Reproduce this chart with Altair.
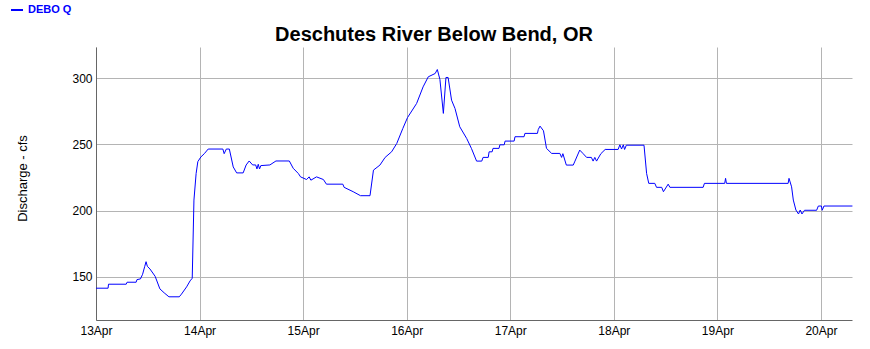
import altair as alt
import pandas as pd

# Hours after 13 Apr 00:00 and discharge (cfs)
hours = [0, 2.8, 2.9, 7.0, 7.2, 9.3, 9.5, 10.3, 10.8, 11.3, 11.6, 11.9, 12.5, 13.7,
         14.8, 15.8, 16.9, 19.3, 19.8, 21.0, 21.8, 22.3, 22.7, 23.2, 23.6, 24.3,
         25.1, 26.0, 29.4, 29.7, 30.2, 30.9, 31.8, 32.6, 34.1, 34.8, 35.5, 36.3,
         37.0, 37.3, 37.6, 37.9, 38.2, 40.3, 41.7, 44.8, 45.7, 46.9, 47.4, 48.8,
         49.4, 49.8, 51.1, 52.7, 53.4, 57.2, 57.5, 59.6, 61.3, 63.5, 64.3, 65.8,
         67.0, 68.5, 69.7, 71.1, 72.2, 74.3, 75.8, 77.0, 78.6, 79.1, 79.7, 80.5,
         81.1, 81.6, 82.4, 83.2, 84.3, 85.9, 87.0, 88.2, 89.4, 89.7, 90.9, 91.1,
         91.8, 92.0, 93.4, 93.6, 94.6, 94.8, 96.9, 97.1, 99.2, 99.4, 102.3, 102.5,
         102.9, 103.7, 104.4, 105.6, 107.5,
         107.9, 108.2, 109.0, 110.6, 111.0, 112.1, 112.9, 113.7, 114.8, 115.2,
         115.6, 116.0, 117.0, 118.0, 121.0, 121.4, 121.8, 122.2, 122.5, 122.9,
         127.0, 127.6, 128.1, 129.5, 129.9, 131.1, 131.5, 132.6, 133.0, 140.7,
         141.0, 145.7, 145.9, 146.1, 160.4, 160.6, 161.2, 161.6, 162.2, 162.8,
         163.2, 163.6, 164.2, 167.0, 167.4, 168.1, 168.3, 168.7, 175.3]
flow = [141.5, 141.5, 144.5, 144.5, 146, 146, 148, 148.5, 152, 158, 161.5, 158,
        156, 150.5, 141, 138, 135, 135, 137, 142.5, 147, 149, 208, 228, 237,
        240.5, 243, 246.5, 246.5, 243, 246.5, 246.5, 233, 228.5, 228.5, 234.5,
        237.5, 234.5, 234.5, 231.5, 235, 231.5, 234, 234.5, 237.5, 237.5, 232,
        228, 225.5, 223.5, 225.5, 223, 225.5, 223.5, 220, 220, 217.6, 214.3,
        211.3, 211.3, 230.6, 234.4, 240.2, 244.4, 250.7, 262, 270.3, 280.9,
        293.4, 301, 303.5, 306.5, 299, 273.4, 300.5, 300.5, 283.4, 277.1, 263.3,
        254.5, 247, 237.4, 237.4, 240.2, 240.2, 244.4,
        244.4, 247, 247, 249.7, 249.7, 252.5, 252.5, 255.8, 255.8, 258.3, 258.3,
        261.3, 263.8, 260.3, 247, 243.2, 243.2, 240.2, 243, 234.4, 234.4,
        237.4, 245.7, 243, 240.2, 240.2, 237.4, 240.2, 237.4, 243, 246.2, 246.2,
        249.7, 246.5, 249.7, 246.2, 249.4, 249.4, 228.1, 220.6, 220.6, 217.6,
        217.6, 214.3, 220, 217.6, 217.6, 220.6, 220.6, 224.4, 220.6, 220.6,
        224.4, 218, 208, 200.5, 197.5, 200.5, 197.5, 200.3, 200.3, 203.5, 203.5,
        200.3, 203.5, 203.5]
series_name = "DEBO Q"
chart_title = "Deschutes River Below Bend, OR"
y_ticks = [150, 200, 250, 300]
day_ticks = [13, 14, 15, 16, 17, 18, 19, 20]

start = pd.Timestamp("2024-04-13T00:00:00Z")
df = pd.DataFrame({
    "time": [(start + pd.Timedelta(hours=h)).strftime("%Y-%m-%dT%H:%M:%SZ") for h in hours],
    "flow": flow,
    "series": series_name,
})

FONT = "Liberation Sans"

chart = alt.Chart(df).mark_line(strokeWidth=1, interpolate="linear").encode(
    x=alt.X(
        "time:T",
        scale=alt.Scale(type="utc",
                        domain=[alt.DateTime(year=2024, month=4, date=13, utc=True),
                                alt.DateTime(year=2024, month=4, date=20, hours=7, minutes=12, utc=True)]),
        axis=alt.Axis(
            values=[alt.DateTime(year=2024, month=4, date=d, utc=True) for d in day_ticks],
            labelExpr="utcFormat(datum.value, '%d%b')",
            title=None, ticks=False, labelPadding=5, labelFontSize=12,
            labelFont=FONT, labelColor="#000000", grid=True,
            gridColor="#b4b4b4", domainColor="#666666", labelFlush=False,
        ),
    ),
    y=alt.Y(
        "flow:Q",
        scale=alt.Scale(domain=[117.5, 323.5], nice=False, zero=False),
        axis=alt.Axis(
            values=y_ticks, title="Discharge - cfs", ticks=False, labelPadding=4,
            labelFontSize=12, labelFont=FONT, labelColor="#000000",
            titleFont=FONT, titleFontSize=13, titleFontWeight="normal",
            titleColor="#000000", titleX=-74, titleY=131, titleAngle=270,
            titleBaseline="middle", titleAlign="center",
            grid=True, gridColor="#b4b4b4", domainColor="#666666",
        ),
    ),
    color=alt.Color(
        "series:N",
        scale=alt.Scale(range=["#0000ff"]),
        legend=alt.Legend(
            orient="none", legendX=-86, legendY=-44, title=None,
            symbolType="stroke", symbolSize=144, symbolStrokeWidth=2,
            labelColor="#0000ff", labelFontWeight="bold", labelFontSize=11,
            labelFont=FONT, labelOffset=4, padding=0,
        ),
    ),
).properties(
    width=756,
    height=273,
    title=alt.TitleParams(
        text=chart_title, anchor="middle", frame="group", fontSize=20,
        font=FONT, fontWeight="bold", color="#000000", dx=-40, dy=48, offset=6,
    ),
    autosize=alt.AutoSizeParams(type="none"),
    padding={"left": 96, "top": 47, "right": 18, "bottom": 29},
).configure_view(stroke=None)

chart.save("out.html", embed_options={"renderer": "svg", "actions": False})
